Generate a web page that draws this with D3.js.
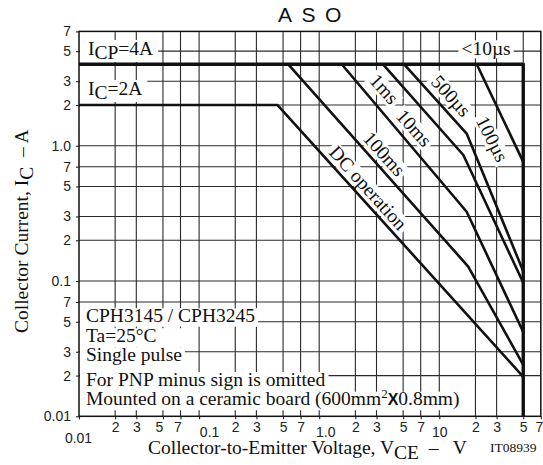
<!DOCTYPE html>
<html>
<head>
<meta charset="utf-8">
<script src="https://cdn.jsdelivr.net/npm/d3@7"></script>
<style>
  body { margin: 0; background: #fff; }
  svg { display: block; }
</style>
</head>
<body>
<svg id="chart" width="543" height="465"></svg>
<script>
// ASO (area of safe operation) chart for CPH3145 / CPH3245

// Axis ticks and their printed labels
const vceTicks = [0.01, 0.02, 0.03, 0.05, 0.07, 0.1, 0.2, 0.3, 0.5, 0.7, 1, 2, 3, 5, 7, 10, 20, 30, 50, 70];
const vceTickLabels = ["0.01", "2", "3", "5", "7", "0.1", "2", "3", "5", "7", "1.0", "2", "3", "5", "7", "10", "2", "3", "5", "7"];
const icTicks = [0.01, 0.02, 0.03, 0.05, 0.07, 0.1, 0.2, 0.3, 0.5, 0.7, 1, 2, 3, 5, 7];
const icTickLabels = ["0.01", "2", "3", "5", "7", "0.1", "2", "3", "5", "7", "1.0", "2", "3", "5", "7"];

// Limit curves as [VCE (V), IC (A)] points
const limit10us  = [[0.01, 4], [50, 4], [50, 0.01]];
const limit100us = [[20.5, 4], [50, 0.76]];
const limit500us = [[5.1, 4], [16.9, 1.23], [50, 0.118]];
const limit1ms   = [[3.4, 4], [15.85, 0.854], [50, 0.097]];
const limit10ms  = [[1.54, 4], [16.9, 0.325], [50, 0.042]];
const limit100ms = [[0.553, 4], [17.4, 0.128], [50, 0.024]];
const limitDC    = [[0.01, 2], [0.45, 2], [50, 0.0196]];

const curveNames = ["<10µs", "100µs", "500µs", "1ms", "10ms", "100ms", "DC operation"];

const noteLines = [
  "CPH3145 / CPH3245",
  "Ta=25°C",
  "Single pulse",
  "For PNP minus sign is omitted",
  "Mounted on a ceramic board (600mm²✕0.8mm)"
];

const serif = "'Liberation Serif', 'Times New Roman', serif";
const sans = "'Liberation Sans', Arial, sans-serif";

const svg = d3.select("#chart");

const x = d3.scaleLog().domain([0.01, 70]).range([79, 540.8]);
const y = d3.scaleLog().domain([0.01, 7]).range([416.3, 31.4]);

const gridLayer = svg.append("g");
const bgLayer = svg.append("g");
const curveLayer = svg.append("g");
const textLayer = svg.append("g");

// Grid
gridLayer.selectAll("line.v")
  .data(vceTicks.filter(d => d > 0.01 && d < 70))
  .join("line")
  .attr("x1", d => x(d)).attr("x2", d => x(d))
  .attr("y1", y(7)).attr("y2", y(0.01))
  .attr("stroke", "#2a2a2a").attr("stroke-width", 1.1);
gridLayer.selectAll("line.h")
  .data(icTicks.filter(d => d > 0.01 && d < 7))
  .join("line")
  .attr("x1", x(0.01)).attr("x2", x(70))
  .attr("y1", d => y(d)).attr("y2", d => y(d))
  .attr("stroke", "#2a2a2a").attr("stroke-width", 1.1);

// Axes
const yAxis = d3.axisLeft(y)
  .tickValues(icTicks)
  .tickFormat((d, i) => icTickLabels[i])
  .tickSize(3).tickPadding(5);
const gy = svg.append("g").attr("transform", `translate(${x(0.01)},0)`).call(yAxis);

const xAxis = d3.axisBottom(x)
  .tickValues(vceTicks)
  .tickFormat((d, i) => vceTickLabels[i])
  .tickSize(3).tickPadding(3);
const gx = svg.append("g").attr("transform", `translate(0,${y(0.01)})`).call(xAxis);

[gx, gy].forEach(g => {
  g.select(".domain").remove();
  g.selectAll(".tick line").attr("stroke", "#222").attr("stroke-width", 1.1);
  g.selectAll(".tick text")
    .attr("font-family", sans).attr("font-size", 14).attr("fill", "#222");
});

// decade labels on the VCE axis sit a little lower than the 2-3-5-7 labels
const xLabelDrop = new Map([[0.01, 17], [0.1, 11], [1, 11], [10, 11]]);
const xLabelShift = new Map([[0.01, -1], [0.05, -4], [0.07, -3], [0.1, 10], [1, 6], [70, -2]]);
gx.selectAll(".tick text")
  .attr("dx", d => xLabelShift.get(d) || 0)
  .attr("y", d => xLabelDrop.get(d) || 6);

// Plot frame
curveLayer.append("rect")
  .attr("x", x(0.01)).attr("y", y(7))
  .attr("width", x(70) - x(0.01)).attr("height", y(0.01) - y(7))
  .attr("fill", "none").attr("stroke", "#111").attr("stroke-width", 1.5);

// Limit curves
const line = d3.line().x(d => x(d[0])).y(d => y(d[1]));
const curves = [limit10us, limit100us, limit500us, limit1ms, limit10ms, limit100ms, limitDC];
curveLayer.selectAll("path.limit")
  .data(curves)
  .join("path")
  .attr("class", "limit")
  .attr("d", line)
  .attr("fill", "none")
  .attr("stroke", "#111")
  .attr("stroke-linejoin", "round")
  .attr("stroke-width", (d, i) => i === 0 ? 3.4 : 2.6);

// Curve labels on white patches
const labelSpots = {
  "<10µs":        { at: [24.5, 5.2],  angle: 0 },
  "100µs":        { at: [27.5, 1.12], angle: 63 },
  "500µs":        { at: [12.5, 2.33], angle: 48 },
  "1ms":          { at: [3.47, 2.62], angle: 48 },
  "10ms":         { at: [6.15, 1.35], angle: 48 },
  "100ms":        { at: [3.47, 0.868], angle: 48 },
  "DC operation": { at: [2.55, 0.487], angle: 48 }
};

function patch(bb, transform, pad) {
  bgLayer.append("rect")
    .attr("transform", transform)
    .attr("x", bb.x - pad).attr("y", bb.y + 2)
    .attr("width", bb.width + 2 * pad).attr("height", bb.height - 3)
    .attr("fill", "#fff");
}

curveNames.forEach(name => {
  const s = labelSpots[name];
  const tf = `translate(${x(s.at[0])},${y(s.at[1])}) rotate(${s.angle})`;
  const t = textLayer.append("text")
    .attr("transform", tf)
    .attr("text-anchor", "middle")
    .attr("dy", "0.33em")
    .attr("font-family", serif).attr("font-size", 19.5).attr("fill", "#111")
    .text(name);
  patch(t.node().getBBox(), tf, 3);
});

// Collector current limits written with subscripts
function subLabel(main, sub, rest, px, py) {
  const t = textLayer.append("text")
    .attr("x", px).attr("y", py)
    .attr("font-family", serif).attr("font-size", 19.5).attr("fill", "#111");
  t.append("tspan").text(main);
  t.append("tspan").attr("dy", 4).text(sub);
  t.append("tspan").attr("dy", -4).text(rest);
  const bb = t.node().getBBox();
  bgLayer.append("rect")
    .attr("x", x(0.01) + 1).attr("y", bb.y + 2)
    .attr("width", bb.x + bb.width + 4 - x(0.01)).attr("height", bb.height - 3)
    .attr("fill", "#fff");
}
subLabel("I", "CP", "=4A", x(0.01) + 9, 55);
subLabel("I", "C", "=2A", x(0.01) + 9, 95);

// Notes block in the lower-left corner
const noteBaselines = [321.7, 341.7, 361.2, 385.5, 405.2];
const noteNodes = noteLines.map((txt, i) => {
  const t = textLayer.append("text")
    .attr("x", x(0.01) + 7).attr("y", noteBaselines[i])
    .attr("font-family", serif).attr("font-size", 19.5).attr("fill", "#111");
  const m = txt.match(/^(.*\(600mm)²✕(.*)$/);
  if (m) {
    t.append("tspan").text(m[1]);
    t.append("tspan").attr("dy", -7).attr("font-size", 13).text("2");
    t.append("tspan").attr("dy", 7).attr("font-family", sans).attr("font-weight", "bold")
      .attr("font-size", 16).text("X");
    t.append("tspan").text(m[2]);
  } else {
    t.text(txt);
  }
  return t.node();
});
const noteRight = noteNodes.map(n => { const b = n.getBBox(); return b.x + b.width + 3; });
noteRight[1] = Math.max(noteRight[1], noteRight[2]);
noteBaselines.forEach((b, i) => {
  const top = b - 13.5;
  const bottom = i === 0 ? b + 5
    : (i < noteBaselines.length - 1 ? noteBaselines[i + 1] - 13.5 : b + 5);
  bgLayer.append("rect")
    .attr("x", x(0.01) + 1).attr("y", top)
    .attr("width", noteRight[i] - x(0.01) - 1)
    .attr("height", bottom - top)
    .attr("fill", "#fff");
});

// Axis titles
const xt = svg.append("text")
  .attr("x", 148).attr("y", 454)
  .attr("font-family", serif).attr("font-size", 19.5).attr("fill", "#111");
xt.append("tspan").text("Collector-to-Emitter Voltage, V");
xt.append("tspan").attr("dy", 5).text("CE");
xt.append("tspan").attr("dy", -5).attr("xml:space", "preserve").text("  –   V");

const yt = svg.append("text")
  .attr("transform", "translate(28,333) rotate(-90)")
  .attr("font-family", serif).attr("font-size", 19.5).attr("fill", "#111");
yt.append("tspan").text("Collector Current, I");
yt.append("tspan").attr("dy", 5).text("C");
yt.append("tspan").attr("dy", -5).attr("xml:space", "preserve").text("  – A");

svg.append("text")
  .attr("x", 490).attr("y", 452)
  .attr("font-family", serif).attr("font-size", 13.5).attr("fill", "#111")
  .text("IT08939");

// Title
svg.append("text")
  .attr("x", 278).attr("y", 22)
  .attr("font-family", sans).attr("font-size", 21).attr("letter-spacing", 9.5).attr("fill", "#111")
  .text("ASO");
</script>
</body>
</html>
